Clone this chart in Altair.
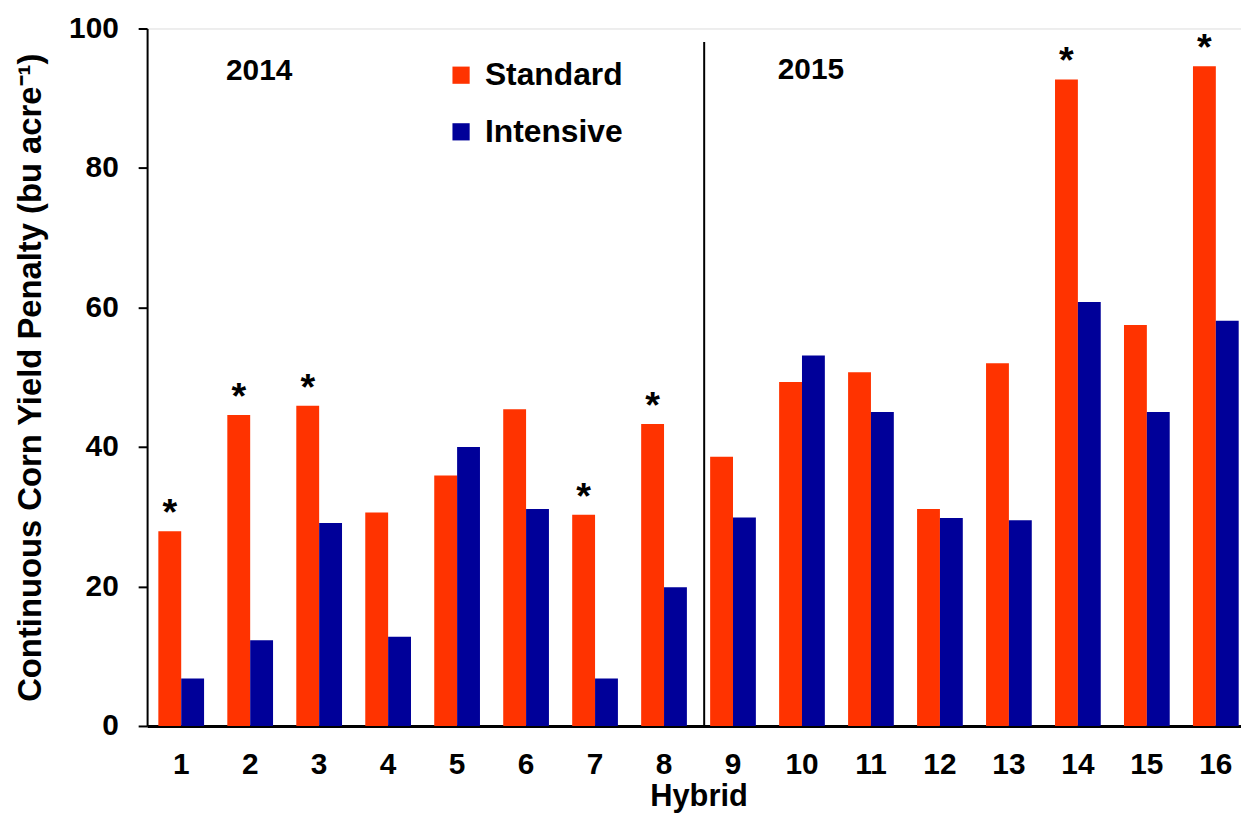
import altair as alt
import pandas as pd

hybrids = [str(i) for i in range(1, 17)]
standard = [27.9, 44.6, 45.9, 30.6, 35.9, 45.4, 30.3, 43.3, 38.6, 49.3, 50.7, 31.1, 52.0, 92.7, 57.5, 94.6]
intensive = [6.8, 12.3, 29.1, 12.8, 40.0, 31.1, 6.8, 19.9, 29.9, 53.1, 45.0, 29.8, 29.5, 60.8, 45.0, 58.1]
significant = ["1", "2", "3", "7", "8", "14", "16"]
treatments = ["Standard", "Intensive"]
colors = ["#FF3300", "#000099"]
year_labels = ["2014", "2015"]
year_positions = ["2", "10"]
year_y = [93.9, 94.1]

rows = []
for h, s, i in zip(hybrids, standard, intensive):
    rows.append({"Hybrid": h, "Treatment": "Standard", "Value": s})
    rows.append({"Hybrid": h, "Treatment": "Intensive", "Value": i})
df = pd.DataFrame(rows)

stars = pd.DataFrame({
    "Hybrid": significant,
    "Treatment": ["Standard"] * len(significant),
    "Value": [standard[hybrids.index(h)] for h in significant],
    "label": ["*"] * len(significant),
})
years = pd.DataFrame({"Hybrid": year_positions, "Value": year_y, "label": year_labels})

FONT = "Liberation Sans"

x_scale = alt.Scale(domain=hybrids, paddingInner=0.337, paddingOuter=0.163, range=[0, 1110])
y_scale = alt.Scale(domain=[0, 100], nice=False)
xo_scale = alt.Scale(domain=treatments, paddingInner=0, paddingOuter=0)

bars = alt.Chart(df).mark_bar().encode(
    x=alt.X("Hybrid:N", scale=x_scale, sort=hybrids,
            axis=alt.Axis(title="Hybrid", labelAngle=0, ticks=False,
                          labelFontSize=30, labelFontWeight="bold", labelFont=FONT,
                          labelPadding=24, titleFontSize=31, titleFontWeight="bold",
                          titleFont=FONT, titlePadding=2, domainWidth=3,
                          domainColor="black", labelColor="black", titleColor="black")),
    y=alt.Y("Value:Q", scale=y_scale,
            axis=alt.Axis(title="Continuous Corn Yield Penalty (bu acre⁻¹)",
                          values=[0, 20, 40, 60, 80, 100], grid=False,
                          tickSize=9, tickWidth=2, tickColor="black",
                          domainWidth=2, domainColor="black",
                          labelFontSize=30, labelFontWeight="bold", labelFont=FONT,
                          labelPadding=20, labelColor="black",
                          titleFontSize=33, titleFontWeight="bold", titleFont=FONT,
                          titlePadding=21, titleColor="black")),
    xOffset=alt.XOffset("Treatment:N", scale=xo_scale, sort=treatments),
    color=alt.Color("Treatment:N", sort=treatments,
                    scale=alt.Scale(domain=treatments, range=colors),
                    legend=alt.Legend(title=None, orient="none", legendX=300, legendY=31,
                                      symbolType="square", symbolSize=300,
                                      symbolStrokeWidth=0, labelFontSize=32,
                                      labelFontWeight="bold", labelFont=FONT,
                                      labelColor="black", rowPadding=25,
                                      labelOffset=8)),
)

star_text = alt.Chart(stars).mark_text(
    fontSize=38, fontWeight="bold", font=FONT, baseline="alphabetic", dy=-6, color="black"
).encode(
    x=alt.X("Hybrid:N", scale=x_scale, sort=hybrids),
    xOffset=alt.XOffset("Treatment:N", scale=xo_scale, sort=treatments),
    y=alt.Y("Value:Q", scale=y_scale),
    text="label:N",
)

year_text = alt.Chart(years).mark_text(
    fontSize=30, fontWeight="bold", font=FONT, dx=9, color="black"
).encode(
    x=alt.X("Hybrid:N", scale=x_scale, sort=hybrids),
    y=alt.Y("Value:Q", scale=y_scale),
    text="label:N",
)

divider = alt.Chart(pd.DataFrame({"Hybrid": ["9"], "top": [98.05], "bottom": [0]})).mark_rule(
    color="black", strokeWidth=2, xOffset=-6
).encode(
    x=alt.X("Hybrid:N", scale=x_scale, sort=hybrids, bandPosition=0),
    y=alt.Y("top:Q", scale=y_scale),
    y2="bottom:Q",
)

chart = alt.layer(bars, divider, star_text, year_text).properties(
    width=1101, height=702,
    autosize=alt.AutoSizeParams(type="none"),
    padding={"left": 140, "top": 18, "right": 0, "bottom": 90},
).configure_view(stroke=None).configure(background="white")

chart.save("out.html", embed_options={"renderer": "svg", "actions": False})
